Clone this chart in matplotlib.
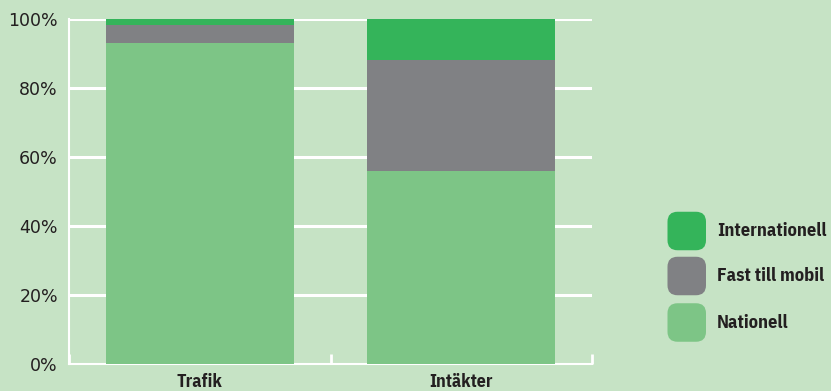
import matplotlib
matplotlib.use("Agg")
import matplotlib.pyplot as plt
from matplotlib.patches import FancyBboxPatch
import numpy as np

categories = ["Trafik", "Intäkter"]
series_names = ["Nationell", "Fast till mobil", "Internationell"]
nationell = [93, 56]
fast_till_mobil = [5, 32]
internationell = [2, 12]
yticks = [0, 20, 40, 60, 80, 100]
ytick_labels = ["0%", "20%", "40%", "60%", "80%", "100%"]

colors = ["#7DC586", "#808184", "#34B45A"]
bg = "#C6E3C5"
txt = "#231F20"
W, H = 831, 391
cond = ["IBM Plex Sans Condensed", "DejaVu Sans"]

fig = plt.figure(figsize=(W / 100, H / 100), dpi=100, facecolor=bg)
ax = fig.add_axes([69 / W, (H - 364) / H, (592 - 69) / W, (364 - 18.5) / H])
ax.set_facecolor(bg)

x = np.arange(len(categories))
values = [nationell, fast_till_mobil, internationell]
bottom = np.zeros(len(categories))
for vals, c in zip(values, colors):
    ax.bar(x, vals, width=0.72, bottom=bottom, color=c, zorder=3)
    bottom += np.array(vals)

ax.set_xlim(-0.5, len(categories) - 0.5)
ax.set_ylim(0, 100)
for yv in yticks[1:]:
    ax.axhline(yv, color="white", lw=2.2, zorder=1)

for s in ["top", "right"]:
    ax.spines[s].set_visible(False)
for s in ["left", "bottom"]:
    ax.spines[s].set_color("white")
    ax.spines[s].set_linewidth(1.5)
    ax.spines[s].set_zorder(2)

ax.set_yticks(yticks)
ax.set_yticklabels(ytick_labels, fontsize=12.5, color=txt, family="DejaVu Sans")
ax.tick_params(axis="y", length=0, pad=8)

# category boundary ticks (pointing up)
ax.set_xticks(np.arange(-0.5, len(categories), 1.0), minor=True)
ax.tick_params(axis="x", which="minor", direction="in", length=7, width=2, color="white")
ax.set_xticks(x)
ax.set_xticklabels(categories, fontsize=13, fontweight="bold", color=txt, family=cond)
ax.tick_params(axis="x", which="major", length=0, pad=6.5)

# legend with rounded swatches
legend_rows = [("Internationell", colors[2], 231), ("Fast till mobil", colors[1], 276),
               ("Nationell", colors[0], 322.5)]
for name, c, yc in legend_rows:
    s = 38.5
    box = FancyBboxPatch((667.5 / W, (H - yc - s / 2) / H), s / W, s / H,
                         boxstyle="round,pad=0,rounding_size=0.012",
                         transform=fig.transFigure, facecolor=c, edgecolor="none",
                         mutation_aspect=W / H)
    fig.patches.append(box)
    fig.text(717 / W, (H - yc) / H, name, fontsize=13.2, fontweight="bold", color=txt,
             va="center", ha="left", family=cond)

fig.savefig("out.png", dpi=100, facecolor=bg)
